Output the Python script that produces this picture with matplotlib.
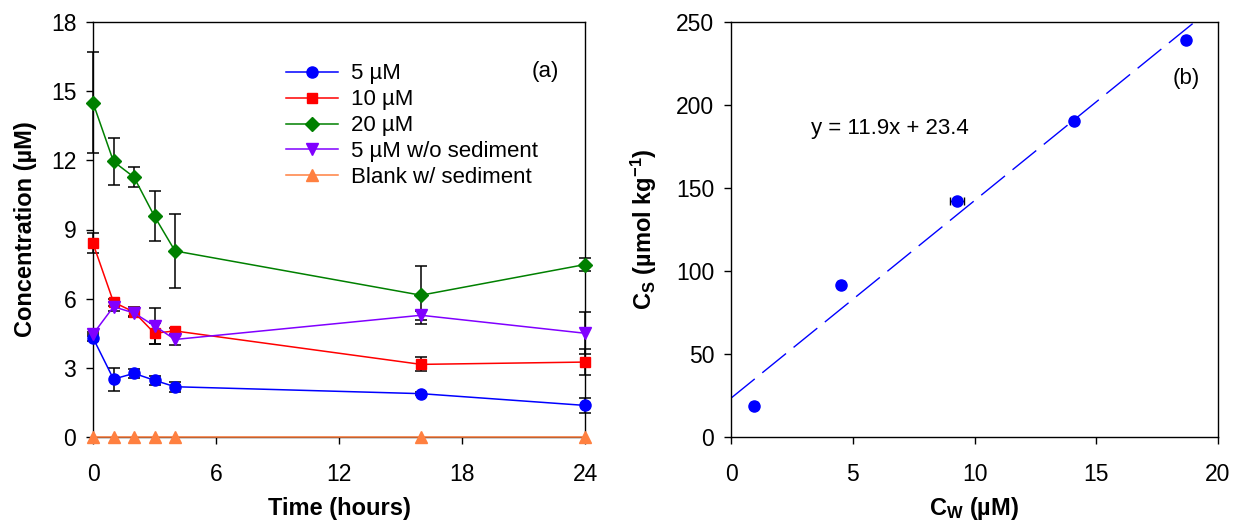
import matplotlib
matplotlib.use("Agg")
import matplotlib.pyplot as plt
import numpy as np

plt.rcParams['font.family'] = ['Liberation Sans', 'DejaVu Sans']
plt.rcParams['mathtext.fontset'] = 'custom'
plt.rcParams['mathtext.rm'] = 'Liberation Sans'
plt.rcParams['mathtext.bf'] = 'Liberation Sans:bold'
plt.rcParams['mathtext.default'] = 'bf'

# ---- Panel (a) data ----
time_h = [0, 1, 2, 3, 4, 16, 24]
c5 = [4.30, 2.51, 2.76, 2.46, 2.18, 1.88, 1.37]
c5_err = [0.15, 0.50, 0.18, 0.20, 0.22, 0.06, 0.31]
c10 = [8.40, 5.85, 5.42, 4.50, 4.60, 3.15, 3.25]
c10_err = [0.43, 0.15, 0.20, 0.45, 0.12, 0.30, 0.56]
c20 = [14.50, 11.95, 11.27, 9.57, 8.07, 6.15, 7.48]
c20_err = [2.20, 1.00, 0.43, 1.08, 1.61, 1.25, 0.29]
c5_nosed = [4.46, 5.65, 5.38, 4.82, 4.23, 5.28, 4.50]
c5_nosed_err = [0.10, 0.20, 0.15, 0.78, 0.22, 0.20, 0.92]
blank = [0, 0, 0, 0, 0, 0, 0]

series_labels = ["5 µM", "10 µM", "20 µM", "5 µM w/o sediment", "Blank w/ sediment"]
series_colors = ["#0000FF", "#FF0000", "#008000", "#8000FF", "#FF8040"]
series_markers = ["o", "s", "D", "v", "^"]

# ---- Panel (b) data ----
cw = [0.94, 4.51, 9.29, 14.08, 18.67]
cw_err = [0.10, 0.08, 0.28, 0.10, 0.08]
cs = [18.8, 91.8, 142.2, 190.4, 239.4]
cs_err = [2.0, 2.0, 2.0, 2.0, 2.0]
fit_slope = 11.9
fit_intercept = 23.4

FS_TICK = 16.5
FS_LAB = 17
FS_TXT = 16

fig = plt.figure(figsize=(12.38, 5.22), dpi=100)
ax1 = fig.add_axes([93/1238, 85/522, (585-93)/1238, (437-22)/522])
ax2 = fig.add_axes([731/1238, 85/522, (1218-731)/1238, (437-22)/522])

ys = [c5, c10, c20, c5_nosed, blank]
errs = [c5_err, c10_err, c20_err, c5_nosed_err, None]
msizes = [8, 7.5, 7.5, 8.5, 8.5]
handles = []
for y, e, lab, col, mk, ms in zip(ys, errs, series_labels, series_colors, series_markers, msizes):
    if e is not None:
        ax1.errorbar(time_h, y, yerr=e, fmt='none', ecolor='black', elinewidth=1.1,
                     capsize=4, capthick=1.1, zorder=2, clip_on=False)
    h, = ax1.plot(time_h, y, color=col, marker=mk, ms=ms, lw=1.1, label=lab,
                  zorder=3, clip_on=False)
    handles.append(h)

ax1.set_xlim(0, 24)
ax1.set_ylim(0, 18)
ax1.set_xticks(np.arange(0, 25, 6))
ax1.set_yticks(np.arange(0, 19, 3))
ax1.set_xlabel("Time (hours)", fontsize=FS_LAB, fontweight='bold', labelpad=8)
ax1.set_ylabel("Concentration (µM)", fontsize=FS_LAB, fontweight='bold', labelpad=10)
ax1.text(22.05, 15.84, "(a)", fontsize=FS_TXT, ha='center', va='center')
ax1.legend(handles=handles, loc='upper left', bbox_to_anchor=(0.392, 0.90), frameon=False,
           fontsize=FS_TXT, handlelength=2.34, handletextpad=0.6, labelspacing=0.22,
           borderaxespad=0, borderpad=0)

# ---- Panel (b) ----
ax2.errorbar(cw, cs, xerr=cw_err, yerr=cs_err, fmt='none', ecolor='black', elinewidth=1,
             capsize=3, capthick=1, zorder=2)
ax2.plot(cw, cs, linestyle='none', marker='o', ms=8, color='#0000FF', zorder=3)
xfit = np.array([0.0, 20.0])
ax2.plot(xfit, fit_slope * xfit + fit_intercept, color='#0000FF', lw=1,
         dashes=(22, 7), zorder=1)
ax2.set_xlim(0, 20)
ax2.set_ylim(0, 250)
ax2.set_xticks(np.arange(0, 21, 5))
ax2.set_yticks(np.arange(0, 251, 50))
ax2.set_xlabel("C$_{W}$ (µM)", fontsize=FS_LAB, fontweight='bold', labelpad=6)
ax2.set_ylabel("C$_{S}$ (µmol kg$^{-1}$)", fontsize=FS_LAB, fontweight='bold', labelpad=12)
ax2.text(3.3, 186, "y = 11.9x + 23.4", fontsize=FS_TXT, ha='left', va='center')
ax2.text(18.7, 216, "(b)", fontsize=FS_TXT, ha='center', va='center')

for ax in (ax1, ax2):
    for s in ax.spines.values():
        s.set_linewidth(1.0)
        s.set_color('black')
    ax.tick_params(direction='out', length=5, width=1, labelsize=FS_TICK)
    ax.tick_params(axis='x', pad=14)
    ax.tick_params(axis='y', pad=7)

fig.savefig("out.png", dpi=100)
